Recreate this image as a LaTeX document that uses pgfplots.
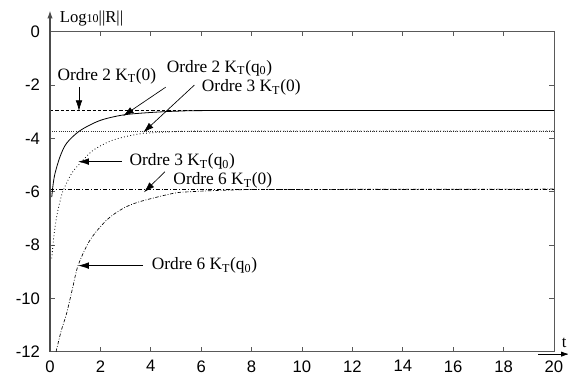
\documentclass[border=0pt]{standalone}
\usepackage{fontspec}
\setmainfont{Liberation Serif}
\newfontfamily\sans{Liberation Sans}
\usepackage{pgfplots}
\pgfplotsset{compat=1.18}
\usetikzlibrary{arrows.meta}
\begin{document}
\begin{tikzpicture}
\useasboundingbox (-37.5pt,-18.2pt) rectangle (388.5pt,263.8pt);
\begin{axis}[
  at={(0,0)}, anchor=south west,
  scale only axis, width=378pt, height=240pt,
  xmin=0, xmax=20, ymin=-12, ymax=0,
  xtick={0,2,...,20}, ytick={-12,-10,...,0},
  tick align=inside, major tick length=3.5pt,
  tick style={gray!70!black, line width=0.5pt},
  axis line style={gray!70!black, line width=0.5pt},
  /pgf/number format/assume math mode=true,
  tick label style={font=\sans\fontsize{12.5}{14}\selectfont},
  xticklabel style={yshift=-3pt},
  yticklabel style={xshift=-4pt},
  clip=false,
]
% horizontal reference lines
\addplot[black, line width=0.5pt, dash pattern=on 2.5pt off 1.5pt] coordinates {(0,-2.95) (20,-2.95)};
\addplot[black!80, line width=0.5pt, dash pattern=on 0.6pt off 1pt] coordinates {(0,-3.72) (20,-3.72)};
\addplot[black, line width=0.5pt, dash pattern=on 3pt off 1.5pt on 0.6pt off 1.5pt] coordinates {(0,-5.9) (20,-5.9)};
% Ordre 2 KT(q0)
\addplot[black, line width=0.6pt, smooth, tension=0.5] coordinates {
(0.07,-6.2) (0.12,-5.75) (0.2,-5.31) (0.4,-4.68) (0.66,-4.18) (1.19,-3.71) (1.98,-3.33) (2.91,-3.12) (3.97,-3.03) (5.16,-2.975) (7,-2.955) (20,-2.95)};
% Ordre 3 KT(q0)
\addplot[black, line width=0.6pt, dash pattern=on 0.6pt off 1.8pt, smooth, tension=0.5] coordinates {
(0.07,-8.5) (0.15,-7.7) (0.26,-6.95) (0.4,-6.35) (0.53,-5.94) (0.86,-5.31) (1.19,-4.94) (1.72,-4.44) (2.51,-4.06) (3.57,-3.83) (4.89,-3.75) (6.5,-3.725) (20,-3.72)};
% Ordre 6 KT(q0)
\addplot[black, line width=0.5pt, dash pattern=on 2.5pt off 1.3pt on 0.6pt off 1.3pt, smooth, tension=0.5] coordinates {
(0.24,-12) (0.45,-11.2) (0.66,-10.56) (0.9,-9.6) (1.12,-8.75) (1.59,-7.81) (2.25,-7.06) (2.91,-6.62) (3.57,-6.37) (4.89,-6.06) (5.56,-6.0) (7,-5.94) (9,-5.915) (20,-5.9)};
% axis arrows and labels
\draw[gray!60!black, line width=1pt] (axis cs:0,-12) -- (axis cs:0,0);
\draw[gray!60!black, line width=1pt, -{Latex[length=6pt,width=4pt]}] (axis cs:0,0) -- (axis cs:0,0.8);
\node[anchor=west, inner sep=0pt, font=\fontsize{12.5}{14}\selectfont] at (axis cs:0.38,0.5) {Log{\fontsize{9}{10}\selectfont 10}||R||};
\draw[black, line width=0.6pt, -{Latex[length=6pt,width=4pt]}] (axis cs:19.37,-12.09) -- (axis cs:20.6,-12.09);
\node[font=\fontsize{12.5}{14}\selectfont] at (axis cs:20.4,-11.68) {t};
% annotations
\tikzset{ann/.style={anchor=west, inner sep=0pt, font=\fontsize{13}{15}\selectfont},
  arr/.style={black, line width=0.5pt, -{Latex[length=8pt,width=5pt]}}}
\node[ann] at (axis cs:0.29,-1.66) {Ordre 2 K\textsubscript{T}(0)};
\draw[arr] (axis cs:1.15,-2.07) -- (axis cs:1.15,-2.97);
\node[ann] at (axis cs:4.63,-1.37) {Ordre 2 K\textsubscript{T}(q\textsubscript{0})};
\draw[arr] (axis cs:4.59,-2.08) -- (axis cs:2.9,-3.16);
\node[ann] at (axis cs:6.02,-2.1) {Ordre 3 K\textsubscript{T}(0)};
\draw[arr] (axis cs:5.73,-2.0) -- (axis cs:3.7,-3.78);
\node[ann] at (axis cs:3.15,-4.87) {Ordre 3 K\textsubscript{T}(q\textsubscript{0})};
\draw[arr] (axis cs:2.84,-4.87) -- (axis cs:1.12,-4.87);
\node[ann] at (axis cs:4.89,-5.59) {Ordre 6 K\textsubscript{T}(0)};
\draw[arr] (axis cs:4.56,-5.25) -- (axis cs:3.73,-6.02);
\node[ann] at (axis cs:4.03,-8.77) {Ordre 6 K\textsubscript{T}(q\textsubscript{0})};
\draw[arr] (axis cs:3.7,-8.77) -- (axis cs:1.12,-8.77);
\end{axis}
\end{tikzpicture}
\end{document}
